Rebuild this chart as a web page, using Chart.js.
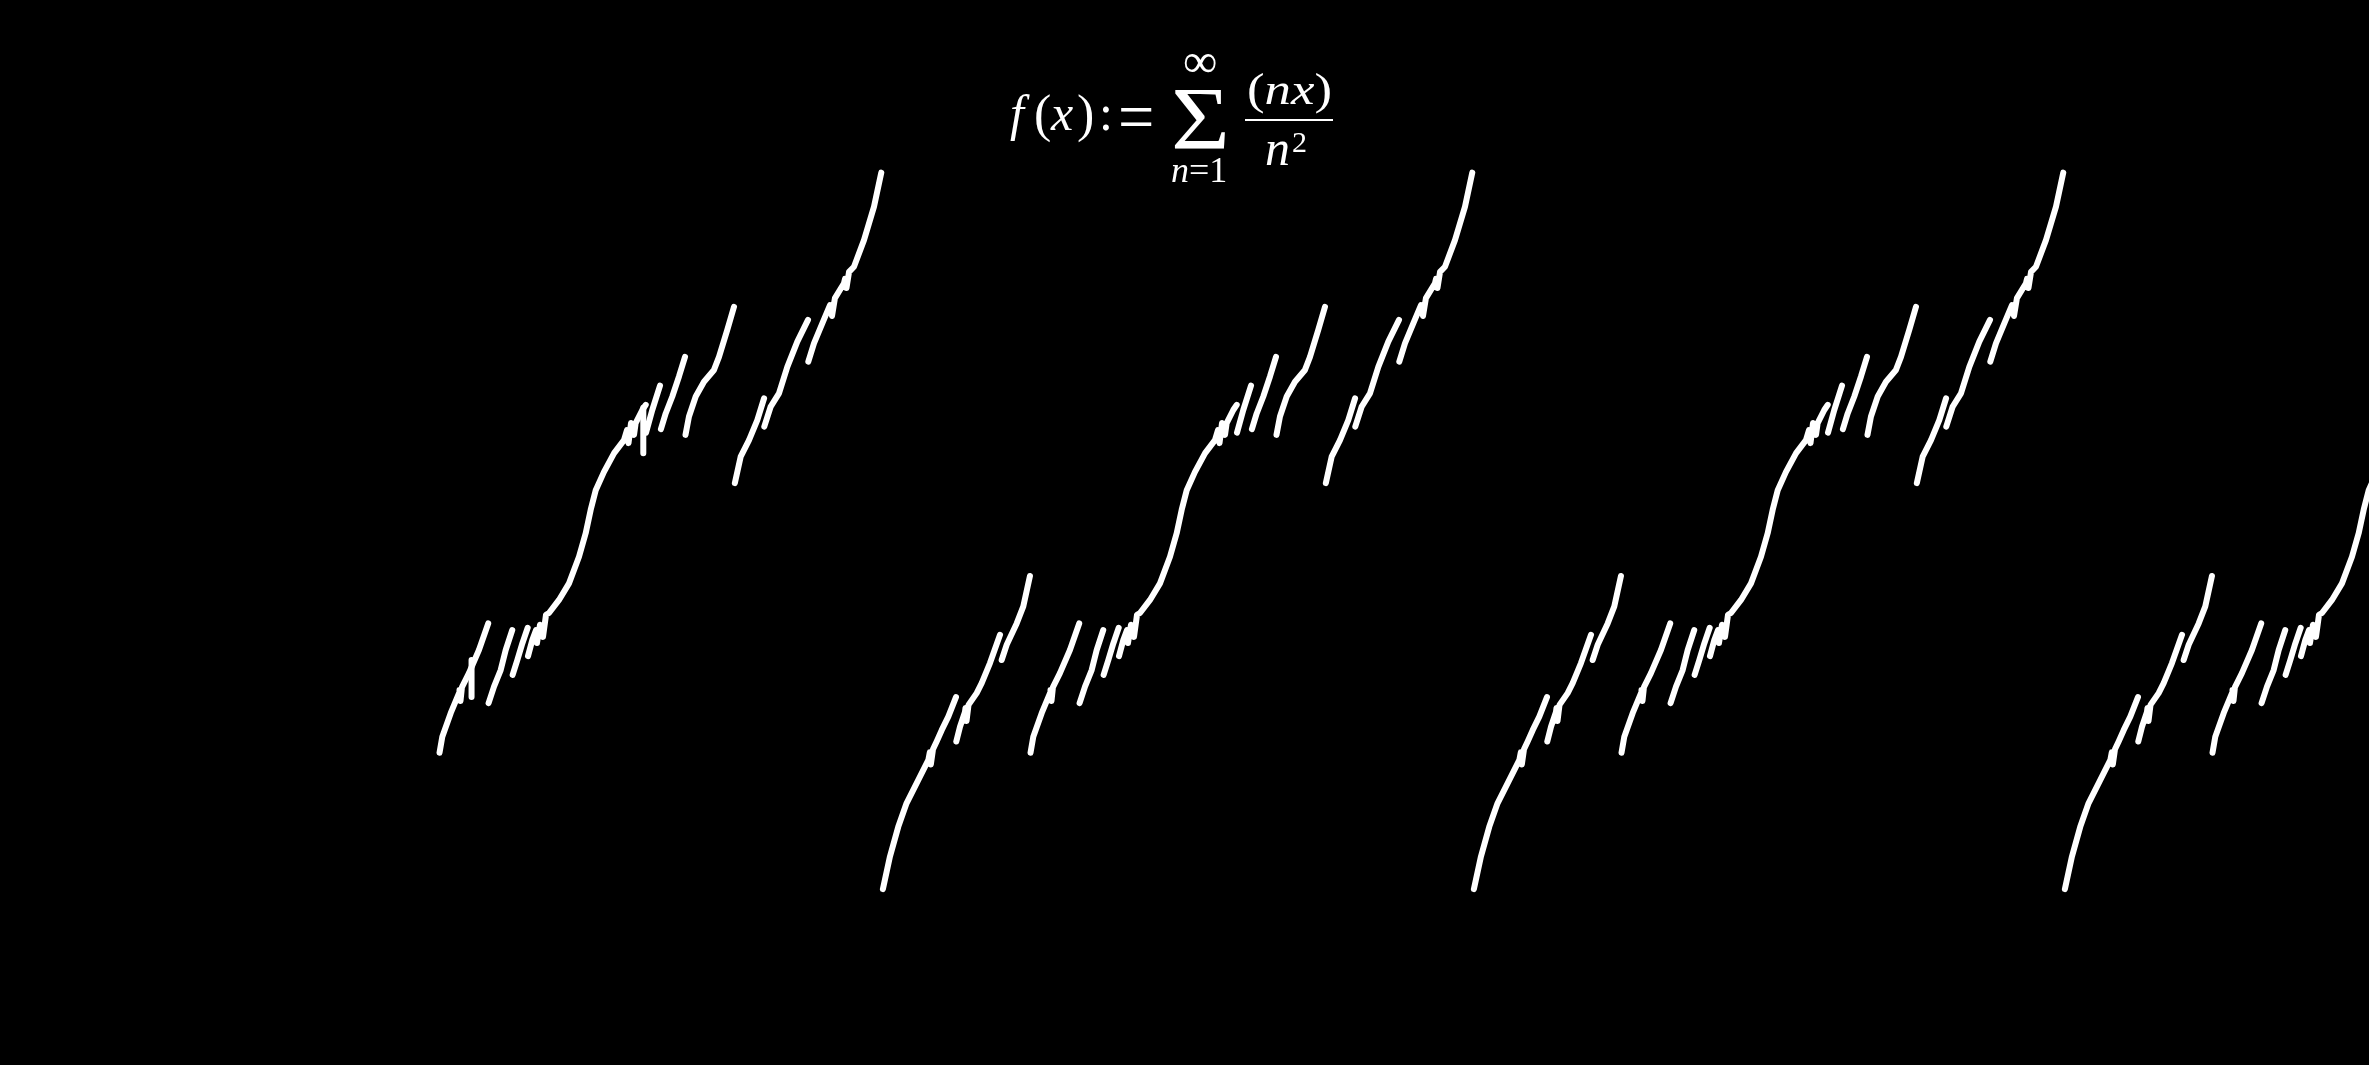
<!DOCTYPE html>
<html>
<head>
<meta charset="utf-8">
<script src="https://cdn.jsdelivr.net/npm/chart.js@4.4.0/dist/chart.umd.min.js"></script>
<style>
  html, body { margin: 0; padding: 0; background: #000; }
  #wrap { position: relative; width: 2369px; height: 1065px; background: #000; overflow: hidden; }
  #c { position: absolute; left: 0; top: 0; }
  .t { position: absolute; color: #fff; font-family: "Liberation Serif", "DejaVu Serif", serif; line-height: 1; white-space: nowrap; transform-origin: 0 0; }
  .i { font-style: italic; }
  #bar { position: absolute; background: #fff; }
</style>
</head>
<body>
<div id="wrap">
  <canvas id="c" width="2369" height="1065"></canvas>
  <div id="title">
    <span class="t i" style="left:1010px;top:88px;font-size:50px;">f</span>
    <span class="t" style="left:1034px;top:88px;font-size:52px;">(</span>
    <span class="t i" style="left:1051px;top:88px;font-size:50px;">x</span>
    <span class="t" style="left:1077px;top:88px;font-size:52px;">)</span>
    <span class="t" style="left:1099px;top:88px;font-size:50px;">:</span>
    <span class="t" style="left:1118px;top:80px;font-size:56px;transform:scale(1.15,1.3);">=</span>
    <span class="t" style="left:1171px;top:74.6px;font-size:88px;transform:scaleX(1.15);">Σ</span>
    <span class="t" style="left:1183px;top:37px;font-size:48px;">∞</span>
    <span class="t" style="left:1171px;top:151.5px;font-size:36px;"><span class="i">n</span>=1</span>
    <span class="t" style="left:1247px;top:68px;font-size:44px;transform:scaleX(1.2);">(<span class="i">nx</span>)</span>
    <div id="bar" style="left:1245px;top:119px;width:88px;height:2px;"></div>
    <span class="t i" style="left:1265px;top:123px;font-size:50px;">n</span>
    <span class="t" style="left:1292px;top:127px;font-size:30px;">2</span>
  </div>
</div>
<script>
// One period of the curve (t = position within the period,
// v = function value). null in periodV marks a break (a visible jump).
const periodT = [
  0.001, 0.013, 0.027, 0.041, 0.061, 0.078, 0.0804, 0.0821, 0.0858, 0.092, 0.1005, 0.1117, 0.1247, 0.1247,
  0.1252, 0.1315, 0.1399, 0.1408, 0.1425, 0.1459, 0.1597, 0.1682, 0.1822, 0.1992, 0.1992,
  0.2020, 0.2105, 0.2274, 0.2386, 0.2499, 0.2499,
  0.2508, 0.2555, 0.2697, 0.2838, 0.2846, 0.2863, 0.2888, 0.3006, 0.3175, 0.3332, 0.3332,
  0.3338, 0.3430, 0.3543, 0.3628, 0.3739, 0.3739,
  0.3745, 0.3824, 0.3909, 0.4000, 0.4000,
  0.4005, 0.4078, 0.4141, 0.4157, 0.4208, 0.4259, 0.4310, 0.4360, 0.4530, 0.4699, 0.4868, 0.4981,
  0.5066, 0.5151, 0.5291, 0.5462, 0.5629, 0.5680, 0.5706, 0.5748, 0.5799, 0.5827, 0.5939, 0.5997, 0.5997,
  0.6002, 0.6108, 0.6239, 0.6239,
  0.6254, 0.6335, 0.6447, 0.6560, 0.6662, 0.6662,
  0.6670, 0.6729, 0.6843, 0.6983, 0.7152, 0.7237, 0.7377, 0.7491, 0.7491,
  0.7505, 0.7604, 0.7745, 0.7885, 0.8000, 0.8000,
  0.8003, 0.8112, 0.8252, 0.8393, 0.8562, 0.8743, 0.8743,
  0.8748, 0.8844, 0.8985, 0.9115, 0.9149, 0.9199, 0.9352, 0.9369, 0.9394, 0.9437, 0.9521, 0.9690, 0.9860, 0.9983, 0.9983
];
const periodV = [
  -0.825, -0.750, -0.682, -0.628, -0.574, -0.528, -0.511, -0.539, -0.504, -0.486, -0.460, -0.429, -0.384, null,
  -0.486, -0.452, -0.418, -0.409, -0.439, -0.402, -0.375, -0.352, -0.306, -0.241, null,
  -0.299, -0.264, -0.215, -0.176, -0.106, null,
  -0.512, -0.475, -0.421, -0.375, -0.368, -0.393, -0.361, -0.329, -0.276, -0.215, null,
  -0.398, -0.360, -0.322, -0.276, -0.230, null,
  -0.333, -0.299, -0.261, -0.225, null,
  -0.290, -0.253, -0.230, -0.260, -0.218, -0.246, -0.195, -0.191, -0.161, -0.123, -0.062, -0.008,
  0.046, 0.091, 0.133, 0.176, 0.206, 0.229, 0.199, 0.245, 0.218, 0.245, 0.275, 0.287, null,
  0.223, 0.275, 0.331, null,
  0.231, 0.267, 0.306, 0.352, 0.397, null,
  0.218, 0.260, 0.306, 0.340, 0.367, 0.397, 0.459, 0.512, null,
  0.107, 0.168, 0.206, 0.252, 0.302, null,
  0.237, 0.283, 0.313, 0.374, 0.432, 0.482, null,
  0.386, 0.428, 0.474, 0.516, 0.491, 0.532, 0.566, 0.576, 0.555, 0.592, 0.604, 0.665, 0.742, 0.820, null
];
// Period offsets drawn, and where the drawn curve begins.
const periodStarts = [-1, 0, 1, 2];
const curveStart = -0.75;
// Short vertical strokes seen only in the first (partial) period.
const strokeX = [-0.6950, -0.4044];
const strokeTop = [-0.299, 0.280];
const strokeBottom = [-0.384, 0.176];
// Visible window of the axes.
const xRange = [-1.4929, 2.5156];
const yRange = [-1.2287, 1.2163];

const curve = [];
for (const k of periodStarts) {
  for (let i = 0; i < periodT.length; i++) {
    const x = periodT[i] + k;
    if (x < curveStart) continue;
    curve.push({ x: x, y: periodV[i] });
  }
}
const strokes = [];
for (let i = 0; i < strokeX.length; i++) {
  strokes.push({ x: strokeX[i], y: strokeTop[i] });
  strokes.push({ x: strokeX[i], y: strokeBottom[i] });
  strokes.push({ x: strokeX[i], y: null });
}

const lineStyle = {
  borderColor: '#ffffff',
  borderWidth: 6,
  borderCapStyle: 'round',
  borderJoinStyle: 'round',
  pointRadius: 0,
  pointHoverRadius: 0,
  tension: 0,
  fill: false,
  spanGaps: false
};

new Chart(document.getElementById('c'), {
  type: 'line',
  data: {
    datasets: [
      Object.assign({ data: curve }, lineStyle),
      Object.assign({ data: strokes }, lineStyle)
    ]
  },
  options: {
    responsive: false,
    animation: false,
    devicePixelRatio: 1,
    layout: { padding: 0 },
    plugins: { legend: { display: false }, tooltip: { enabled: false }, title: { display: false } },
    scales: {
      x: { type: 'linear', min: xRange[0], max: xRange[1], display: false },
      y: { type: 'linear', min: yRange[0], max: yRange[1], display: false }
    }
  }
});
</script>
</body>
</html>
